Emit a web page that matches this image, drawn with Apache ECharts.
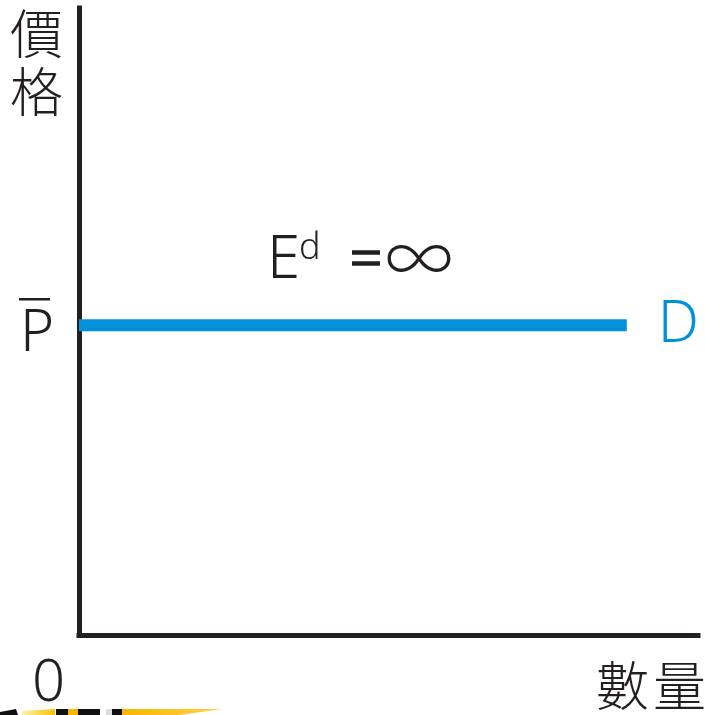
<!DOCTYPE html>
<html>
<head>
<meta charset="utf-8">
<script src="https://cdn.jsdelivr.net/npm/echarts@6/dist/echarts.min.js"></script>
<style>
  html, body { margin: 0; padding: 0; background: #fff; }
  #chart { width: 705px; height: 715px; }
</style>
</head>
<body>
<div id="chart"></div>
<script>
// Perfectly elastic demand: a horizontal demand curve at price P̄
const quantityRange = [0, 100];
const priceRange = [0, 100];
const demandQuantity = [0, 88.5];   // demand line spans these quantities
const demandPrice = 49.4;           // constant price level P̄
const yAxisTitle = ['價', '格'];
const xAxisTitle = ['數', '量'];
const originLabel = '0';
const curveLabel = 'D';

const INK = '#231f20';
const BLUE = '#0091da';
const LATIN = '"Noto Sans", "DejaVu Sans", sans-serif';
const CJK = '"Noto Sans CJK TC", "Noto Sans CJK SC", sans-serif';

const chart = echarts.init(document.getElementById('chart'));

const demandData = demandQuantity.map(q => [q, demandPrice]);

chart.setOption({
  animation: false,
  backgroundColor: '#ffffff',
  grid: { left: 79, right: 7, top: 8, bottom: 80 },
  xAxis: {
    type: 'value', min: quantityRange[0], max: quantityRange[1],
    axisLine: { show: true, lineStyle: { color: INK, width: 5, cap: 'square' } },
    axisTick: { show: false }, axisLabel: { show: false }, splitLine: { show: false }
  },
  yAxis: {
    type: 'value', min: priceRange[0], max: priceRange[1],
    axisLine: { show: true, lineStyle: { color: INK, width: 5, cap: 'square' } },
    axisTick: { show: false }, axisLabel: { show: false }, splitLine: { show: false }
  },
  series: [{
    type: 'line',
    data: demandData,
    showSymbol: false,
    z: 1,
    lineStyle: { color: BLUE, width: 12, cap: 'butt' },
    endLabel: {
      show: true, formatter: curveLabel, color: BLUE,
      fontFamily: LATIN, fontSize: 58, fontWeight: 300, distance: 31,
      offset: [0, 0]
    }
  }]
});

// Annotations positioned from the axis scales
const pY = chart.convertToPixel({ yAxisIndex: 0 }, demandPrice);
const originX = chart.convertToPixel({ xAxisIndex: 0 }, 0);
const originY = chart.convertToPixel({ yAxisIndex: 0 }, 0);

function txt(text, x, y, size, opts) {
  return {
    type: 'text', silent: true,
    style: Object.assign({
      text: text, x: x, y: y, fill: INK,
      font: (opts && opts.weight || 300) + ' ' + size + 'px ' + (opts && opts.family || LATIN),
      textAlign: 'left', textVerticalAlign: 'middle'
    }, opts && opts.style || {})
  };
}

const graphics = [
  // vertical axis title
  txt(yAxisTitle[0], 10, 34, 53, { family: CJK, weight: 300 }),
  txt(yAxisTitle[1], 10, 92, 53, { family: CJK, weight: 300 }),
  // price label P with overline
  txt('P', 20, pY + 9, 58),
  { type: 'line', silent: true, shape: { x1: 19, y1: pY - 26, x2: 50, y2: pY - 26 },
    style: { stroke: INK, lineWidth: 2.5 } },
  // elasticity annotation
  txt('E', 267, pY - 64, 60),
  txt('d', 299, pY - 77, 36),
  { type: 'rect', silent: true, shape: { x: 352, y: pY - 75, width: 28, height: 4.5 }, style: { fill: INK } },
  { type: 'rect', silent: true, shape: { x: 352, y: pY - 64, width: 28, height: 4.5 }, style: { fill: INK } },
  txt('∞', 419, pY - 67, 68, { weight: 300, family: CJK, style: { textAlign: 'center' } }),
  // origin and horizontal axis title
  txt(originLabel, originX - 47, originY + 49, 58),
  txt(xAxisTitle[0], 596, originY + 51, 53, { family: CJK, weight: 300 }),
  txt(xAxisTitle[1], 653, originY + 51, 53, { family: CJK, weight: 300 }),
  // clipped strip along the bottom edge
  { type: 'polygon', silent: true, shape: { points: [[0, 712], [16, 709], [18, 715], [0, 715]] }, style: { fill: '#111' } },
  { type: 'polygon', silent: true, shape: { points: [[22, 711], [55, 709], [55, 715], [22, 715]] },
    style: { fill: new echarts.graphic.LinearGradient(0, 0, 1, 0, [{ offset: 0, color: '#fff3a0' }, { offset: 1, color: '#f5c400' }]) } },
  { type: 'rect', silent: true, shape: { x: 56, y: 709, width: 12, height: 6 }, style: { fill: '#111' } },
  { type: 'rect', silent: true, shape: { x: 68, y: 709, width: 10, height: 6 }, style: { fill: '#f8b500' } },
  { type: 'rect', silent: true, shape: { x: 78, y: 709, width: 22, height: 6 }, style: { fill: '#111' } },
  { type: 'rect', silent: true, shape: { x: 106, y: 709, width: 6, height: 6 }, style: { fill: '#ddd' } },
  { type: 'rect', silent: true, shape: { x: 112, y: 709, width: 10, height: 6 }, style: { fill: '#111' } },
  { type: 'polygon', silent: true, shape: { points: [[122, 709], [222, 709], [180, 715], [122, 715]] },
    style: { fill: new echarts.graphic.LinearGradient(0, 0, 1, 0, [{ offset: 0, color: '#f8b500' }, { offset: 1, color: '#ffd24a' }]) } }
];

chart.setOption({ graphic: graphics });
</script>
</body>
</html>
